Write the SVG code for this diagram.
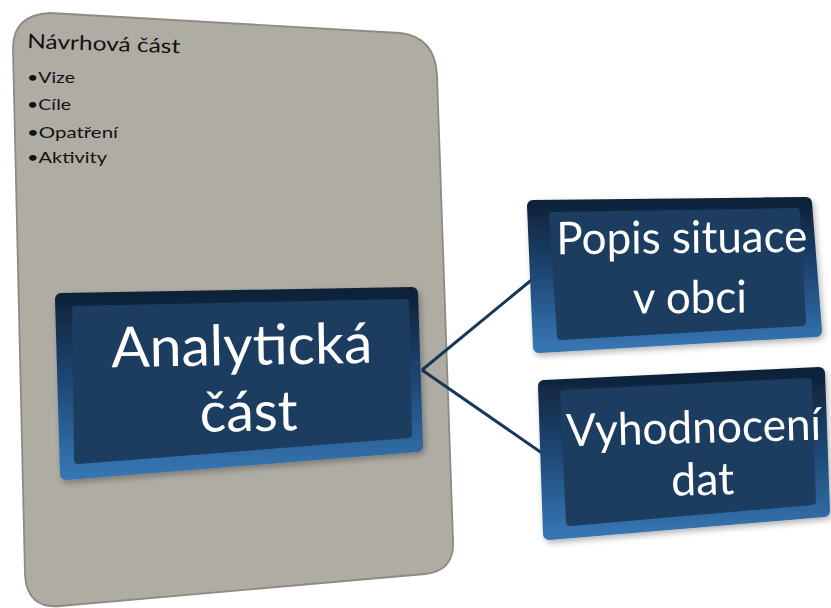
<svg xmlns="http://www.w3.org/2000/svg" width="831" height="608" viewBox="0 0 831 608">
<defs>
<linearGradient id="bev" x1="0" y1="0" x2="0" y2="1">
<stop offset="0" stop-color="#0f2238"/>
<stop offset="0.45" stop-color="#1c4470"/>
<stop offset="1" stop-color="#3675b2"/>
</linearGradient>
<filter id="sh" x="-10%" y="-10%" width="130%" height="130%">
<feGaussianBlur in="SourceAlpha" stdDeviation="3"/>
<feOffset dx="2" dy="3"/>
<feComponentTransfer><feFuncA type="linear" slope="0.3"/></feComponentTransfer>
<feMerge><feMergeNode/><feMergeNode in="SourceGraphic"/></feMerge>
</filter>
</defs>
<style>
.panel{fill:#afaca4;stroke:#8e8b81;stroke-width:1.8}
.outer{fill:url(#bev);stroke:url(#bev);stroke-width:12;stroke-linejoin:round}
.inner{fill:#1b3d61;stroke:#1b3d61;stroke-width:8;stroke-linejoin:round}
.big{font-family:Lato,"Open Sans",sans-serif;fill:#ffffff;text-anchor:middle}
.small{font-family:Lato,"Open Sans",sans-serif;fill:#111111}
.conn{stroke:#1a3656;stroke-width:3;fill:none}
</style>
<g id="panel">
<path class="panel" d="M50,13 L400,33 Q435,37 437,75 L453,540 Q455,571 425,574 L60,606 Q27,609 25,575 L13,50 Q12,15 50,13 Z"/>
<text class="small" transform="rotate(2 27 48)" x="27" y="48" font-size="20" textLength="153" lengthAdjust="spacingAndGlyphs">Návrhová část</text>
<text class="small" x="27" y="83" font-size="15" textLength="48" lengthAdjust="spacingAndGlyphs">•Vize</text>
<text class="small" x="27" y="110" font-size="15" textLength="44" lengthAdjust="spacingAndGlyphs">•Cíle</text>
<text class="small" x="27" y="138" font-size="15" textLength="91" lengthAdjust="spacingAndGlyphs">•Opatření</text>
<text class="small" x="27" y="163" font-size="15" textLength="80" lengthAdjust="spacingAndGlyphs">•Aktivity</text>
</g>
<g id="connectors">
<line class="conn" x1="422" y1="370" x2="540" y2="273"/>
<line class="conn" x1="422" y1="370" x2="552" y2="460"/>
</g>
<g id="analyticka" filter="url(#sh)">
<polygon class="outer" points="61,299 412,293 417,446 66,474"/>
<polygon class="inner" points="76,310 405,303 408,434 78,460"/>
<text class="big" x="242" y="365" font-size="56" textLength="261" lengthAdjust="spacingAndGlyphs" transform="rotate(-1 242 365)">Analytická</text>
<text class="big" x="249" y="431" font-size="56" textLength="98" lengthAdjust="spacingAndGlyphs" transform="rotate(-1 249 431)">část</text>
</g>
<g id="popis" filter="url(#sh)">
<polygon class="outer" points="533,206 806,203 816,331 539,347"/>
<polygon class="inner" points="553,216 796,212 802,322 561,336"/>
<text class="big" x="682" y="253" font-size="45" textLength="251" lengthAdjust="spacingAndGlyphs" transform="rotate(-0.6 682 253)">Popis situace</text>
<text class="big" x="690" y="313" font-size="45" textLength="114" lengthAdjust="spacingAndGlyphs" transform="rotate(-0.6 690 313)">v obci</text>
</g>
<g id="vyhodnoceni" filter="url(#sh)">
<polygon class="outer" points="544,386 819,373 824,511 549,534"/>
<polygon class="inner" points="564,394 808,382 812,501 570,522"/>
<text class="big" x="694" y="443" font-size="45" textLength="255" lengthAdjust="spacingAndGlyphs" transform="rotate(-1.5 694 443)">Vyhodnocení</text>
<text class="big" x="703" y="495" font-size="45" textLength="63" lengthAdjust="spacingAndGlyphs" transform="rotate(-1.5 703 495)">dat</text>
</g>
</svg>
